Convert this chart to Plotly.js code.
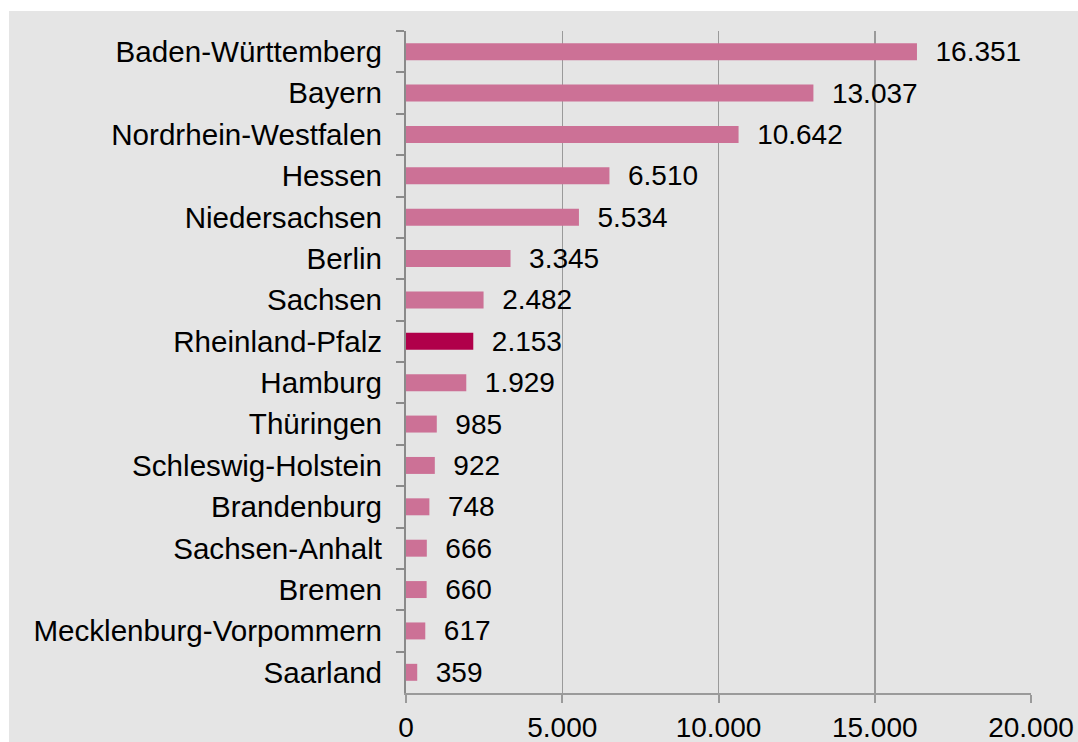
<!DOCTYPE html>
<html>
<head>
<meta charset="utf-8">
<script src="https://cdn.plot.ly/plotly-3.0.1.min.js"></script>
<style>
html,body{margin:0;padding:0;background:#ffffff;width:1078px;height:742px;overflow:hidden;}
#chart{position:absolute;left:9px;top:11px;width:1069px;height:731px;}
</style>
</head>
<body>
<div id="chart"></div>
<script>
const states = ["Baden-Württemberg","Bayern","Nordrhein-Westfalen","Hessen","Niedersachsen","Berlin","Sachsen","Rheinland-Pfalz","Hamburg","Thüringen","Schleswig-Holstein","Brandenburg","Sachsen-Anhalt","Bremen","Mecklenburg-Vorpommern","Saarland"];
const values = [16351,13037,10642,6510,5534,3345,2482,2153,1929,985,922,748,666,660,617,359];
const highlight = "Rheinland-Pfalz";
const xTicks = [0,5000,10000,15000,20000];

const colors = states.map(s => s === highlight ? "#B0004A" : "#CC7196");
const font = {family:"Liberation Sans, Arial, sans-serif", size:29.6, color:"#000000"};
const numFont = {family:"Liberation Sans, Arial, sans-serif", size:28, color:"#000000"};

const trace = {
  type:"bar", orientation:"h",
  y: states, x: values,
  marker:{color:colors, line:{width:0}},
  texttemplate:"\u00a0\u00a0%{x:,.0f}",
  textposition:"outside",
  constraintext:"none",
  cliponaxis:false,
  textfont:numFont,
  hoverinfo:"skip"
};

const layout = {
  width:1069, height:731,
  paper_bgcolor:"#E5E5E5", plot_bgcolor:"#E5E5E5",
  margin:{l:397, r:47, t:20, b:49},
  separators:",.",
  bargap:0.59,
  showlegend:false,
  font:font,
  xaxis:{
    range:[0,20000], tickvals:xTicks, tickformat:",.0f",
    showgrid:true, gridcolor:"#9a9a9a", gridwidth:1.5,
    zeroline:false,
    showline:true, linecolor:"#9a9a9a", linewidth:2,
    ticks:"outside", ticklen:8, tickcolor:"#9a9a9a", tickwidth:2,
    ticklabelstandoff:0,
    tickfont:numFont, fixedrange:true
  },
  yaxis:{
    type:"category", autorange:"reversed",
    showgrid:false, zeroline:false,
    showline:true, linecolor:"#8a8a8a", linewidth:2,
    ticks:"outside", tickson:"boundaries", ticklen:8, tickcolor:"#8a8a8a", tickwidth:2,
    ticklabelstandoff:16,
    tickfont:font, fixedrange:true
  }
};

Plotly.newPlot("chart", [trace], layout, {displayModeBar:false, staticPlot:true});
</script>
</body>
</html>
